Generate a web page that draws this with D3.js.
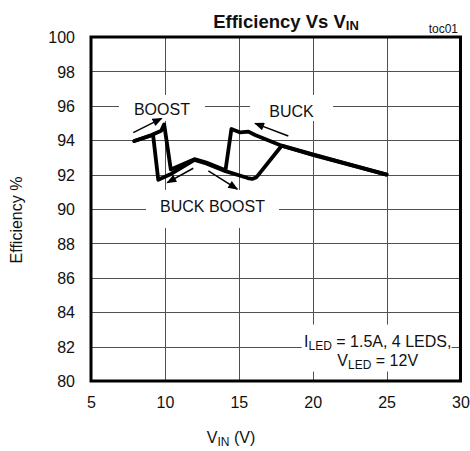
<!DOCTYPE html>
<html>
<head>
<meta charset="utf-8">
<script src="https://cdn.jsdelivr.net/npm/d3@7"></script>
<style>
  html, body { margin: 0; padding: 0; background: #fff; }
  svg { display: block; }
  text { font-family: "Liberation Sans", Arial, sans-serif; fill: #111; }
</style>
</head>
<body>
<svg id="chart" width="470" height="451"></svg>
<script>
// ---- data ----
const xTicks = [5, 10, 15, 20, 25, 30];
const yTicks = [80, 82, 84, 86, 88, 90, 92, 94, 96, 98, 100];

// VIN rising sweep
const vinRising = [7.93, 9.1, 9.75, 9.95, 10.4, 12.0, 12.8, 14.1, 14.5, 15.1, 15.65, 16.1, 17.9, 20.0, 25.0];
const effRising = [93.95, 94.3, 94.55, 94.92, 92.3, 92.9, 92.7, 92.25, 94.65, 94.45, 94.5, 94.3, 93.68, 93.18, 92.0];

// VIN falling sweep (listed in increasing VIN order)
const vinFalling = [7.93, 9.2, 9.55, 10.45, 12.0, 12.8, 14.1, 15.6, 15.9, 16.2, 17.9, 20.0, 25.0];
const effFalling = [93.95, 94.3, 91.7, 92.05, 92.85, 92.65, 92.2, 91.8, 91.75, 91.85, 93.68, 93.15, 92.0];

// annotation arrows: [x1, y1, x2, y2] in data units
const arrowBoost = [7.86, 94.44, 9.78, 95.27];
const arrowBuck = [18.35, 94.24, 16.1, 94.98];
const arrowBBLeft = [11.92, 92.37, 10.16, 91.53];
const arrowBBRight = [12.94, 92.21, 14.9, 91.15];

// ---- layout ----
const svg = d3.select("#chart");
const x = d3.scaleLinear().domain([5, 30]).range([91, 460.5]);
const y = d3.scaleLinear().domain([80, 100]).range([381, 37]);

svg.append("rect").attr("width", 470).attr("height", 451).attr("fill", "#fff");

// gridlines
const grid = svg.append("g").attr("stroke", "#505050").attr("stroke-width", 1);
grid.selectAll("line.v").data(xTicks.slice(1, -1)).enter().append("line")
  .attr("x1", d => Math.round(x(d)) + 0.5).attr("x2", d => Math.round(x(d)) + 0.5)
  .attr("y1", y(100)).attr("y2", y(80));
grid.selectAll("line.h").data(yTicks.slice(1, -1)).enter().append("line")
  .attr("x1", x(5)).attr("x2", x(30))
  .attr("y1", d => Math.round(y(d)) + 0.5).attr("y2", d => Math.round(y(d)) + 0.5);

// white label boxes (break gridlines)
const boxes = svg.append("g");
function labelBox(cx, baseline, w, hTop, hBot) {
  boxes.append("rect").attr("x", cx - w / 2).attr("y", baseline - hTop)
    .attr("width", w).attr("height", hTop + hBot).attr("fill", "#fff");
}
labelBox(x(9.8), y(95.47), 86, 20, 6);
labelBox(x(18.57), y(95.35), 83, 22, 4);
labelBox(x(13.22), y(89.83), 133, 22, 16);
labelBox(x(24.33), y(82.0), 150, 22, 25);

// curves
const line = d3.line().x(d => x(d[0])).y(d => y(d[1]));
const rising = vinRising.map((v, i) => [v, effRising[i]]);
const falling = vinFalling.map((v, i) => [v, effFalling[i]]);
[rising, falling].forEach(s => {
  svg.append("path").attr("d", line(s)).attr("fill", "none")
    .attr("stroke", "#000").attr("stroke-width", 3.8)
    .attr("stroke-linejoin", "round").attr("stroke-linecap", "round");
});

// arrows
svg.append("defs").append("marker").attr("id", "ah")
  .attr("viewBox", "0 0 10 8").attr("refX", 9).attr("refY", 4)
  .attr("markerWidth", 11).attr("markerHeight", 8).attr("markerUnits", "userSpaceOnUse")
  .attr("orient", "auto")
  .append("path").attr("d", "M0,0 L10,4 L0,8 Z").attr("fill", "#000");
[arrowBoost, arrowBuck, arrowBBLeft, arrowBBRight].forEach(a => {
  svg.append("line").attr("x1", x(a[0])).attr("y1", y(a[1]))
    .attr("x2", x(a[2])).attr("y2", y(a[3]))
    .attr("stroke", "#000").attr("stroke-width", 1.5).attr("marker-end", "url(#ah)");
});

// frame
svg.append("rect").attr("x", x(5)).attr("y", y(100))
  .attr("width", x(30) - x(5)).attr("height", y(80) - y(100))
  .attr("fill", "none").attr("stroke", "#000").attr("stroke-width", 3);

// axis labels via d3 axes (no tick lines, labels only)
const xAxis = d3.axisBottom(x).tickValues(xTicks).tickSize(0).tickPadding(0).tickFormat(d3.format("d"));
const gx = svg.append("g").attr("transform", `translate(0,${y(80)})`).call(xAxis);
gx.select(".domain").remove();
gx.selectAll("text").attr("dy", null).attr("y", 27).style("font-size", "16px")
  .style("font-family", '"Liberation Sans", Arial, sans-serif').attr("fill", "#111");

const yAxis = d3.axisLeft(y).tickValues(yTicks).tickSize(0).tickPadding(16).tickFormat(d3.format("d"));
const gy = svg.append("g").attr("transform", `translate(${x(5)},0)`).call(yAxis);
gy.select(".domain").remove();
gy.selectAll("text").attr("dy", "0.36em").style("font-size", "16px")
  .style("font-family", '"Liberation Sans", Arial, sans-serif').attr("fill", "#111");

// title
const title = svg.append("text").attr("x", 286).attr("y", 27.5).attr("text-anchor", "middle")
  .style("font-size", "18.5px").style("font-weight", "bold");
title.append("tspan").text("Efficiency Vs V");
title.append("tspan").text("IN").style("font-size", "13px").attr("dy", 2);

svg.append("text").attr("x", 458).attr("y", 33).attr("text-anchor", "end")
  .style("font-size", "12px").text("toc01");

// axis titles
const xt = svg.append("text").attr("x", 231).attr("y", 443).attr("text-anchor", "middle")
  .style("font-size", "16px");
xt.append("tspan").text("V");
xt.append("tspan").text("IN").style("font-size", "12px").attr("dy", 3);
xt.append("tspan").text(" (V)").attr("dy", -3);

svg.append("text").attr("transform", "translate(22,220) rotate(-90)")
  .attr("text-anchor", "middle").style("font-size", "16px").text("Efficiency %");

// region labels
function label(txt, v, e) {
  svg.append("text").attr("x", x(v)).attr("y", y(e)).attr("text-anchor", "middle")
    .style("font-size", "16px").text(txt);
}
label("BOOST", 9.8, 95.47);
label("BUCK", 18.57, 95.35);
label("BUCK BOOST", 13.22, 89.83);

// conditions
const c1 = svg.append("text").attr("x", x(24.4)).attr("y", y(82.0)).attr("text-anchor", "middle")
  .style("font-size", "16px");
c1.append("tspan").text("I");
c1.append("tspan").text("LED").style("font-size", "12px").attr("dy", 3);
c1.append("tspan").text(" = 1.5A, 4 LEDS,").attr("dy", -3);
const c2 = svg.append("text").attr("x", x(24.4)).attr("y", y(80.9)).attr("text-anchor", "middle")
  .style("font-size", "16px");
c2.append("tspan").text("V");
c2.append("tspan").text("LED").style("font-size", "12px").attr("dy", 3);
c2.append("tspan").text(" = 12V").attr("dy", -3);
</script>
</body>
</html>
